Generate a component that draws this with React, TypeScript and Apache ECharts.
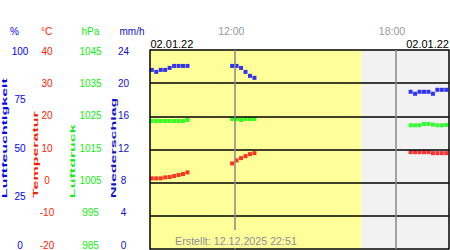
import React, { useEffect, useRef } from "react";
import * as echarts from "echarts";

// ---- data ----
const times = [
  "08:54", "09:04", "09:14", "09:24", "09:34", "09:44", "09:54", "10:04", "10:14",
  "11:54", "12:04", "12:14", "12:24", "12:34", "12:44",
  "18:34", "18:44", "18:54", "19:04", "19:14", "19:24", "19:34", "19:44", "19:54",
];
const humidity = [
  90, 89, 90, 90, 91, 92, 92, 92, 92,
  92, 92, 91, 89, 87, 86,
  79, 78, 79, 79, 79, 78, 80, 80, 80,
];
const temperature = [
  1.3, 1.3, 1.3, 1.6, 1.7, 2.0, 2.3, 2.6, 3.1,
  5.8, 6.7, 7.4, 8.0, 8.6, 8.9,
  9.2, 9.2, 9.2, 9.2, 9.2, 8.9, 8.9, 8.9, 8.9,
];
const pressure = [
  1023.6, 1023.6, 1023.6, 1023.6, 1023.6, 1023.6, 1023.6, 1023.6, 1023.9,
  1024.2, 1024.2, 1023.9, 1024.2, 1024.2, 1024.2,
  1022.3, 1022.3, 1022.3, 1022.7, 1022.7, 1022.5, 1022.3, 1022.3, 1022.4,
];

const humidityTicks = [0, 25, 50, 75, 100];
const tempTicks = [-20, -10, 0, 10, 20, 30, 40];
const pressureTicks = [985, 995, 1005, 1015, 1025, 1035, 1045];
const precipTicks = [0, 4, 8, 12, 16, 20, 24];
const timeTicks = ["12:00", "18:00"];

const xStart = "08:50";
const xEnd = "20:00";
const sunset = "16:44";
const dateLabel = "02.01.22";
const createdLabel = "Erstellt: 12.12.2025 22:51";

const unitNames = { hum: "%", temp: "°C", pres: "hPa", prec: "mm/h" };
const axisTitles = {
  hum: "Luftfeuchtigkeit",
  temp: "Temperatur",
  pres: "Luftdruck",
  prec: "Niederschlag",
};

// ---- helpers ----
const toH = (s: string) => {
  const [h, m] = s.split(":").map(Number);
  return h + m / 60;
};

const FONT = '"Liberation Sans", Arial, sans-serif';
const C_HUM = "#0000ff";
const C_TEMP = "#ff1a00";
const C_PRES = "#11ee11";
const C_PREC = "#1010cc";
const YELLOW = "#ffff99";
const GRAY_BG = "#f2f2f2";

export default function App() {
  const ref = useRef<HTMLDivElement | null>(null);

  useEffect(() => {
    if (!ref.current) return;
    const chart = echarts.init(ref.current, undefined, { renderer: "svg" });
    const xMin = toH(xStart);
    const xMax = toH(xEnd);
    const pts = (vals: number[]) => times.map((t, i) => [toH(t), vals[i]]);

    const labelAxis = (
      color: string,
      min: number,
      max: number,
      ticks: number[],
      offset: number,
      margin: number
    ) => ({
      type: "value",
      gridIndex: 1,
      position: "left",
      offset,
      min,
      max,
      axisLine: { show: false },
      axisTick: { show: false },
      splitLine: { show: false },
      axisLabel: {
        customValues: ticks,
        formatter: (v: number) => String(v),
        align: "center",
        margin,
        color,
        fontSize: 10,
        fontFamily: FONT,
      },
    });

    const titleText = (text: string, x: number, color: string) => ({
      type: "text",
      x,
      y: 198,
      rotation: Math.PI / 2,
      scaleX: 2,
      style: {
        text,
        fill: color,
        font: `bold 8px ${FONT}`,
        align: "left",
        verticalAlign: "middle",
      },
    });

    const unitText = (text: string, x: number, color: string) => ({
      type: "text",
      x,
      y: 31,
      style: {
        text,
        fill: color,
        font: `10px ${FONT}`,
        align: "center",
        verticalAlign: "middle",
      },
    });

    chart.setOption({
      animation: false,
      textStyle: { fontFamily: FONT },
      grid: [
        { left: 150, top: 50, width: 299, height: 199 },
        { left: 150, top: 51, width: 299, height: 194 },
      ],
      xAxis: [
        {
          type: "value",
          gridIndex: 0,
          position: "top",
          min: xMin,
          max: xMax,
          axisLine: { show: false },
          axisTick: { show: false },
          splitLine: { show: false },
          axisLabel: {
            customValues: timeTicks.map(toH),
            formatter: (v: number) =>
              timeTicks.find((t) => Math.abs(toH(t) - v) < 1e-6) || "",
            color: "#999999",
            fontSize: 10.5,
            margin: 13.5,
            padding: [0, 7, 0, 0],
            fontFamily: FONT,
          },
        },
        { type: "value", gridIndex: 1, show: false, min: 0, max: 1 },
      ],
      yAxis: [
        { type: "value", gridIndex: 0, show: false, min: 0, max: 100 },
        {
          type: "value",
          gridIndex: 0,
          position: "left",
          min: -20,
          max: 40,
          interval: 10,
          z: 3,
          axisLine: { show: true, lineStyle: { color: "#000", width: 1.5 } },
          axisTick: { show: false },
          axisLabel: { show: false },
          splitLine: { show: true, lineStyle: { color: "#000", width: 1.5 } },
        },
        { type: "value", gridIndex: 0, show: false, min: 985, max: 1045 },
        {
          type: "value",
          gridIndex: 0,
          position: "right",
          min: 0,
          max: 24,
          z: 3,
          axisLine: { show: true, lineStyle: { color: "#000", width: 1.5 } },
          axisTick: { show: false },
          axisLabel: { show: false },
          splitLine: { show: false },
        },
        labelAxis(C_HUM, 0, 100, humidityTicks, 130, 0),
        labelAxis(C_TEMP, -20, 40, tempTicks, 103, 0),
        labelAxis(C_PRES, 985, 1045, pressureTicks, 59.5, 0),
        labelAxis(C_PREC, 0, 24, precipTicks, 26.5, 0),
      ],
      series: [
        {
          type: "scatter",
          xAxisIndex: 0,
          yAxisIndex: 0,
          symbol: "rect",
          symbolSize: 4,
          itemStyle: { color: C_HUM },
          data: pts(humidity),
          markArea: {
            silent: true,
            data: [
              [
                { xAxis: xMin, itemStyle: { color: YELLOW } },
                { xAxis: toH(sunset) },
              ],
              [
                { xAxis: toH(sunset), itemStyle: { color: GRAY_BG } },
                { xAxis: xMax },
              ],
            ],
          },
          markLine: {
            silent: true,
            symbol: ["none", "none"],
            label: { show: false },
            lineStyle: { color: "#888888", width: 1.5, type: "solid" },
            data: timeTicks.map((t) => ({ xAxis: toH(t) })),
          },
        },
        {
          type: "scatter",
          xAxisIndex: 0,
          yAxisIndex: 1,
          symbol: "rect",
          symbolSize: 4,
          itemStyle: { color: "#ff0000" },
          data: pts(temperature),
        },
        {
          type: "scatter",
          xAxisIndex: 0,
          yAxisIndex: 2,
          symbol: "rect",
          symbolSize: 4,
          itemStyle: { color: "#00ff00" },
          data: pts(pressure),
        },
      ],
      graphic: [
        unitText(unitNames.hum, 14.5, C_HUM),
        unitText(unitNames.temp, 46.7, C_TEMP),
        unitText(unitNames.pres, 90.3, C_PRES),
        unitText(unitNames.prec, 132, C_PREC),
        titleText(axisTitles.hum, 4.7, C_HUM),
        titleText(axisTitles.temp, 35.5, C_TEMP),
        titleText(axisTitles.pres, 72, C_PRES),
        titleText(axisTitles.prec, 113, C_PREC),
        {
          type: "text",
          x: 150.5,
          y: 44,
          style: {
            text: dateLabel,
            fill: "#000",
            font: `11px ${FONT}`,
            align: "left",
            verticalAlign: "middle",
          },
        },
        {
          type: "text",
          x: 449,
          y: 44,
          style: {
            text: dateLabel,
            fill: "#000",
            font: `11px ${FONT}`,
            align: "right",
            verticalAlign: "middle",
          },
        },
        {
          type: "text",
          x: 236,
          y: 248,
          z: 100,
          style: {
            text: createdLabel,
            fill: "#8c8c9c",
            font: `10.7px ${FONT}`,
            align: "center",
            verticalAlign: "bottom",
            lineHeight: 13,
            backgroundColor: YELLOW,
            padding: [4, 2, 1, 2],
          },
        },
      ],
    });

    return () => chart.dispose();
  }, []);

  return (
    <div
      ref={ref}
      style={{ position: "absolute", left: 0, top: 0, width: 450, height: 250 }}
    />
  );
}
